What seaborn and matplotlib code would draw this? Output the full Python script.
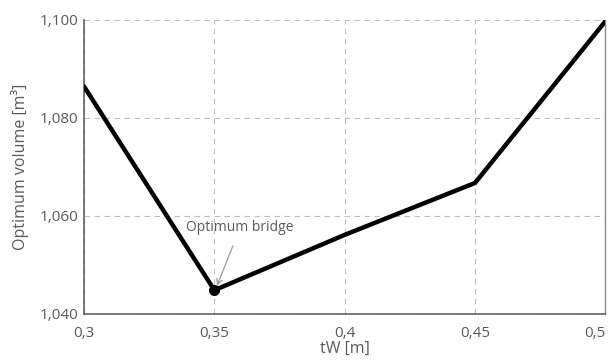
import matplotlib
matplotlib.use("Agg")
import matplotlib.pyplot as plt
from matplotlib.ticker import FuncFormatter
import seaborn as sns
import pandas as pd

# Web thickness candidates and the resulting optimum volume
tw = [0.30, 0.35, 0.40, 0.45, 0.50]
volume = [1.0864, 1.0448, 1.0561, 1.0667, 1.0997]
x_ticks = [0.30, 0.35, 0.40, 0.45, 0.50]
y_ticks = [1.040, 1.060, 1.080, 1.100]
opt_x, opt_y = 0.35, 1.0448

sns.set_theme(style="white")
plt.rcParams["font.family"] = ["Open Sans", "DejaVu Sans"]

text_col = "#5a5a5a"
df = pd.DataFrame({"tW": tw, "V": volume})

fig = plt.figure(figsize=(6.09, 3.61), dpi=100)
ax = fig.add_axes([0.138, 0.131, 0.856, 0.814])

sns.lineplot(data=df, x="tW", y="V", ax=ax, color="black", linewidth=3.2,
             solid_joinstyle="miter", zorder=3)
ax.plot([opt_x], [opt_y], "o", color="black", markersize=7, zorder=4)

ax.set_xlim(0.30, 0.50)
ax.set_ylim(1.040, 1.100)
ax.set_xticks(x_ticks)
ax.set_yticks(y_ticks)

def comma_fmt(decimals):
    def f(v, pos):
        if decimals is None:
            s = ("%.2f" % v).rstrip("0").rstrip(".")
        else:
            s = "%.*f" % (decimals, v)
        return s.replace(".", ",")
    return FuncFormatter(f)

ax.xaxis.set_major_formatter(comma_fmt(None))
ax.yaxis.set_major_formatter(comma_fmt(3))

ax.grid(True, color="#bdbdbd", linestyle=(0, (5, 4)), linewidth=0.8)
ax.tick_params(axis="x", colors=text_col, labelsize=11, length=0, pad=9)
ax.tick_params(axis="y", colors=text_col, labelsize=11, length=0, pad=4)

# keep the last x label inside the canvas
fig.canvas.draw()
ax.get_xticklabels()[-1].set_horizontalalignment("right")

for side in ["left", "bottom"]:
    ax.spines[side].set_color("#555555")
    ax.spines[side].set_linewidth(1.1)
ax.spines["right"].set_color("#8c8c8c")
ax.spines["right"].set_linewidth(1.0)
ax.spines["top"].set_visible(False)

ax.set_xlabel("tW [m]", color=text_col, fontsize=11.5, labelpad=0)
ax.set_ylabel("Optimum volume [m³]", color=text_col, fontsize=11.5, labelpad=8)

ax.annotate("Optimum bridge", xy=(opt_x + 0.001, opt_y + 0.0009),
            xytext=(0.3393, 1.0569), color=text_col, fontsize=10,
            arrowprops=dict(arrowstyle="->", color="#9a9a9a", lw=0.9,
                            shrinkA=6, shrinkB=0))

fig.savefig("out.png", dpi=100)
